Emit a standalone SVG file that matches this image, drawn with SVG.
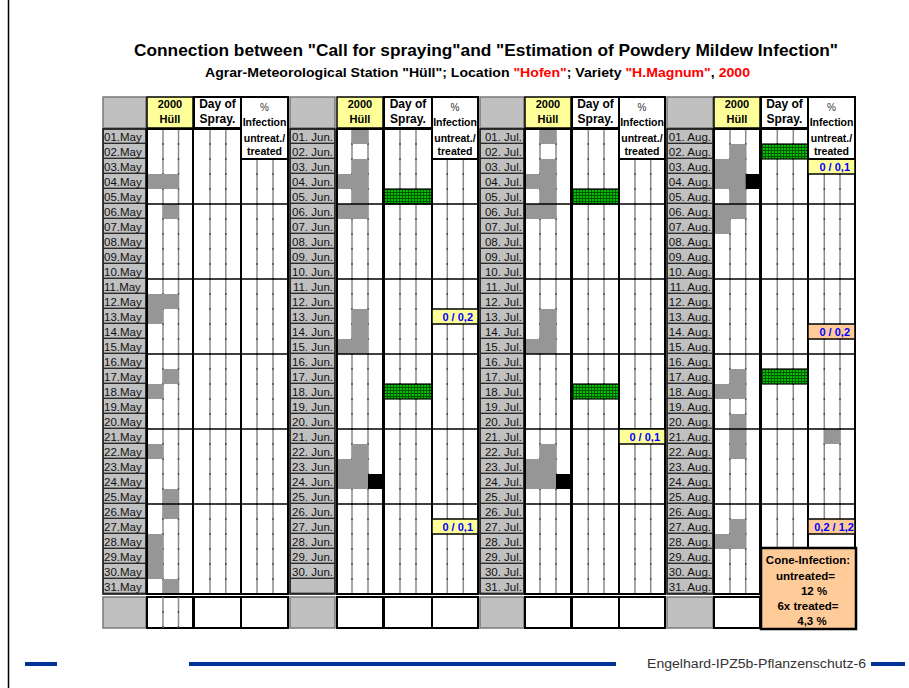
<svg xmlns="http://www.w3.org/2000/svg" width="909" height="688" viewBox="0 0 909 688">
<style>
text{font-family:"Liberation Sans",Arial,sans-serif}
.lb{font-size:11.5px;fill:#111}
.e{text-anchor:end}
.m{text-anchor:middle}
.hd{font-size:11px;font-weight:bold;fill:#000}
.hs{font-size:12px;font-weight:bold;fill:#000}
.hi{font-size:10.5px;font-weight:bold;fill:#000}
.pct{font-size:10px;fill:#333}
.val{font-size:11px;font-weight:bold;fill:#0000ff;text-anchor:end}
.gcol{fill:#c0c0c0;stroke:#000;stroke-width:1.5}
.ghd{fill:#c0c0c0;stroke:#7a7a7a;stroke-width:1.5}
.bx{fill:none;stroke:#000;stroke-width:2}
.wb{fill:#fff;stroke:#000;stroke-width:2}
.yl{fill:#ffff99;stroke:#000;stroke-width:1.5}
.pc{fill:#ffcc99;stroke:#000;stroke-width:1.5}
.gr{fill:#969696}
.bk{fill:#000}
.gn{fill:url(#grn);stroke:#000;stroke-width:1.2}
.sub{fill:none;stroke:#8a8a8a;stroke-width:1.5}
.subd{fill:none;stroke:#444;stroke-width:1.3;stroke-dasharray:2 13;stroke-dashoffset:1}
.hl{fill:none;stroke:#000;stroke-width:1.5}
.cone{font-size:11.5px;font-weight:bold;fill:#000;text-anchor:middle}
</style>
<defs>
<pattern id="grn" width="3" height="3" patternUnits="userSpaceOnUse"><rect width="3" height="3" fill="#00c000"/><path d="M0 .5H3M.5 0V3" stroke="#005500" stroke-width="1"/></pattern>
<pattern id="rows" x="0" y="129" width="50" height="15" patternUnits="userSpaceOnUse"><rect x="0" y="13.6" width="50" height="1.8" fill="#2b2b2b"/></pattern>
</defs>
<rect width="909" height="688" fill="#fff"/>
<path d="M8.5 0V688" stroke="#000" stroke-width="1.5"/>

<g id="title">
<text x="486" y="56" text-anchor="middle" font-size="17" font-weight="bold" textLength="704" lengthAdjust="spacingAndGlyphs">Connection between "Call for spraying"and "Estimation of Powdery Mildew Infection"</text>
<text x="477.5" y="77" text-anchor="middle" font-size="13" font-weight="bold" textLength="545" lengthAdjust="spacingAndGlyphs">Agrar-Meteorological Station "Hüll"; Location <tspan fill="#ff0000">"Hofen"</tspan>; Variety <tspan fill="#ff0000">"H.Magnum"</tspan>, <tspan fill="#ff0000">2000</tspan></text>
</g>

<!-- ===== MAY ===== -->
<g id="block-may">
<rect class="ghd" x="103" y="97" width="43" height="31"/>
<rect class="yl" x="147" y="97" width="46" height="31"/>
<text class="hd m" x="170" y="108">2000</text>
<text class="hd m" x="170" y="123">Hüll</text>
<rect class="wb" x="194" y="97" width="47" height="31"/>
<text class="hs m" x="217.5" y="108">Day of</text>
<text class="hs m" x="217.5" y="123">Spray.</text>
<rect x="147" y="129" width="141" height="465" fill="#fff"/>
<path class="sub" d="M163 129V594M178.5 129V594M210 129V594M225.8 129V594M257 159V594M273 159V594"/>
<path class="subd" d="M163 129V594M178.5 129V594M210 129V594M225.8 129V594M257 159V594M273 159V594"/>
<rect class="gr" x="147" y="174" width="16" height="15"/>
<rect class="gr" x="147" y="294" width="16" height="30"/>
<rect class="gr" x="147" y="384" width="16" height="15"/>
<rect class="gr" x="147" y="444" width="16" height="15"/>
<rect class="gr" x="147" y="534" width="16" height="45"/>
<rect class="gr" x="163" y="174" width="15.5" height="15"/>
<rect class="gr" x="163" y="204" width="15.5" height="15"/>
<rect class="gr" x="163" y="294" width="15.5" height="15"/>
<rect class="gr" x="163" y="369" width="15.5" height="15"/>
<rect class="gr" x="163" y="489" width="15.5" height="30"/>
<rect class="gr" x="163" y="579" width="15.5" height="15"/>
<path class="hl" d="M147 204H288M147 279H288M147 354H288M147 429H288M147 504H288"/>
<rect class="bx" x="147" y="129" width="46" height="465"/>
<rect class="bx" x="193" y="129" width="48" height="465"/>
<rect class="bx" x="241" y="159" width="47" height="435"/>
<rect class="wb" x="241" y="97" width="47" height="62"/>
<text class="pct m" x="264.5" y="111">%</text>
<text class="hi m" x="264.5" y="126">Infection</text>
<text class="hi m" x="264.5" y="141.5">untreat./</text>
<text class="hi m" x="264.5" y="155">treated</text>
<rect class="gcol" x="103" y="129" width="43" height="465"/>
<rect x="103" y="129" width="43" height="465" fill="url(#rows)"/>
<g class="lb">
<text x="104" y="140.5">01.May</text><text x="104" y="155.5">02.May</text><text x="104" y="170.5">03.May</text><text x="104" y="185.5">04.May</text><text x="104" y="200.5">05.May</text>
<text x="104" y="215.5">06.May</text><text x="104" y="230.5">07.May</text><text x="104" y="245.5">08.May</text><text x="104" y="260.5">09.May</text><text x="104" y="275.5">10.May</text>
<text x="104" y="290.5">11.May</text><text x="104" y="305.5">12.May</text><text x="104" y="320.5">13.May</text><text x="104" y="335.5">14.May</text><text x="104" y="350.5">15.May</text>
<text x="104" y="365.5">16.May</text><text x="104" y="380.5">17.May</text><text x="104" y="395.5">18.May</text><text x="104" y="410.5">19.May</text><text x="104" y="425.5">20.May</text>
<text x="104" y="440.5">21.May</text><text x="104" y="455.5">22.May</text><text x="104" y="470.5">23.May</text><text x="104" y="485.5">24.May</text><text x="104" y="500.5">25.May</text>
<text x="104" y="515.5">26.May</text><text x="104" y="530.5">27.May</text><text x="104" y="545.5">28.May</text><text x="104" y="560.5">29.May</text><text x="104" y="575.5">30.May</text>
<text x="104" y="590.5">31.May</text>
</g>
<rect class="ghd" x="103" y="597" width="43" height="31"/>
<rect class="wb" x="147" y="597" width="46" height="31"/>
<path class="sub" d="M163 597V628M178.5 597V628"/>
<path class="subd" d="M163 597V628M178.5 597V628"/>
<rect class="wb" x="194" y="597" width="47" height="31"/>
<rect class="wb" x="241" y="597" width="47" height="31"/>
</g>

<!-- ===== JUNE ===== -->
<g id="block-jun">
<rect class="ghd" x="290" y="97" width="45" height="31"/>
<rect class="yl" x="337" y="97" width="46" height="31"/>
<text class="hd m" x="360" y="108">2000</text>
<text class="hd m" x="360" y="123">Hüll</text>
<rect class="wb" x="384" y="97" width="48" height="31"/>
<text class="hs m" x="408" y="108">Day of</text>
<text class="hs m" x="408" y="123">Spray.</text>
<rect x="337" y="129" width="141" height="465" fill="#fff"/>
<path class="sub" d="M352 129V594M368 129V594M400 129V594M416 129V594M447.3 159V594M463.3 159V594"/>
<path class="subd" d="M352 129V594M368 129V594M400 129V594M416 129V594M447.3 159V594M463.3 159V594"/>
<rect class="gr" x="337" y="174" width="15" height="15"/>
<rect class="gr" x="337" y="204" width="15" height="15"/>
<rect class="gr" x="337" y="339" width="15" height="15"/>
<rect class="gr" x="337" y="459" width="15" height="30"/>
<rect class="gr" x="352" y="129" width="16" height="15"/>
<rect class="gr" x="352" y="159" width="16" height="60"/>
<rect class="gr" x="352" y="309" width="16" height="45"/>
<rect class="gr" x="352" y="444" width="16" height="45"/>
<rect class="bk" x="368" y="474" width="16" height="15"/>
<rect class="gn" x="384" y="189" width="48" height="15"/>
<rect class="gn" x="384" y="384" width="48" height="15"/>
<path class="hl" d="M337 204H478M337 279H478M337 354H478M337 429H478M337 504H478"/>
<rect class="bx" x="337" y="129" width="46" height="465"/>
<rect class="bx" x="384" y="129" width="48" height="465"/>
<rect class="bx" x="432" y="159" width="46" height="435"/>
<rect class="yl" x="432" y="309" width="46" height="15"/>
<text class="val" x="473" y="320.5">0 / 0,2</text>
<rect class="yl" x="432" y="519" width="46" height="15"/>
<text class="val" x="473" y="530.5">0 / 0,1</text>
<rect class="wb" x="432" y="97" width="46" height="62"/>
<text class="pct m" x="455" y="111">%</text>
<text class="hi m" x="455" y="126">Infection</text>
<text class="hi m" x="455" y="141.5">untreat./</text>
<text class="hi m" x="455" y="155">treated</text>
<rect class="gcol" x="290" y="129" width="45" height="465"/>
<rect x="290" y="129" width="45" height="465" fill="url(#rows)"/>
<g class="lb e">
<text x="333" y="140.5">01. Jun.</text><text x="333" y="155.5">02. Jun.</text><text x="333" y="170.5">03. Jun.</text><text x="333" y="185.5">04. Jun.</text><text x="333" y="200.5">05. Jun.</text>
<text x="333" y="215.5">06. Jun.</text><text x="333" y="230.5">07. Jun.</text><text x="333" y="245.5">08. Jun.</text><text x="333" y="260.5">09. Jun.</text><text x="333" y="275.5">10. Jun.</text>
<text x="333" y="290.5">11. Jun.</text><text x="333" y="305.5">12. Jun.</text><text x="333" y="320.5">13. Jun.</text><text x="333" y="335.5">14. Jun.</text><text x="333" y="350.5">15. Jun.</text>
<text x="333" y="365.5">16. Jun.</text><text x="333" y="380.5">17. Jun.</text><text x="333" y="395.5">18. Jun.</text><text x="333" y="410.5">19. Jun.</text><text x="333" y="425.5">20. Jun.</text>
<text x="333" y="440.5">21. Jun.</text><text x="333" y="455.5">22. Jun.</text><text x="333" y="470.5">23. Jun.</text><text x="333" y="485.5">24. Jun.</text><text x="333" y="500.5">25. Jun.</text>
<text x="333" y="515.5">26. Jun.</text><text x="333" y="530.5">27. Jun.</text><text x="333" y="545.5">28. Jun.</text><text x="333" y="560.5">29. Jun.</text><text x="333" y="575.5">30. Jun.</text>
</g>
<rect class="ghd" x="290" y="597" width="45" height="31"/>
<rect class="wb" x="337" y="597" width="46" height="31"/>
<rect class="wb" x="384" y="597" width="48" height="31"/>
<rect class="wb" x="432" y="597" width="46" height="31"/>
</g>

<!-- ===== JULY ===== -->
<g id="block-jul">
<rect class="ghd" x="480" y="97" width="44" height="31"/>
<rect class="yl" x="525" y="97" width="46" height="31"/>
<text class="hd m" x="548" y="108">2000</text>
<text class="hd m" x="548" y="123">Hüll</text>
<rect class="wb" x="572" y="97" width="47" height="31"/>
<text class="hs m" x="595.5" y="108">Day of</text>
<text class="hs m" x="595.5" y="123">Spray.</text>
<rect x="525" y="129" width="140" height="465" fill="#fff"/>
<path class="sub" d="M540 129V594M556 129V594M588.3 129V594M604 129V594M635 159V594M650.7 159V594"/>
<path class="subd" d="M540 129V594M556 129V594M588.3 129V594M604 129V594M635 159V594M650.7 159V594"/>
<rect class="gr" x="525" y="174" width="15" height="15"/>
<rect class="gr" x="525" y="204" width="15" height="15"/>
<rect class="gr" x="525" y="339" width="15" height="15"/>
<rect class="gr" x="525" y="459" width="15" height="30"/>
<rect class="gr" x="540" y="129" width="16" height="15"/>
<rect class="gr" x="540" y="159" width="16" height="60"/>
<rect class="gr" x="540" y="309" width="16" height="45"/>
<rect class="gr" x="540" y="444" width="16" height="45"/>
<rect class="bk" x="556" y="474" width="16" height="15"/>
<rect class="gn" x="572" y="189" width="47" height="15"/>
<rect class="gn" x="572" y="384" width="47" height="15"/>
<path class="hl" d="M525 204H665M525 279H665M525 354H665M525 429H665M525 504H665"/>
<rect class="bx" x="525" y="129" width="46" height="465"/>
<rect class="bx" x="572" y="129" width="47" height="465"/>
<rect class="bx" x="619" y="159" width="46" height="435"/>
<rect class="yl" x="619" y="429" width="46" height="15"/>
<text class="val" x="660" y="440.5">0 / 0,1</text>
<rect class="wb" x="619" y="97" width="46" height="62"/>
<text class="pct m" x="642" y="111">%</text>
<text class="hi m" x="642" y="126">Infection</text>
<text class="hi m" x="642" y="141.5">untreat./</text>
<text class="hi m" x="642" y="155">treated</text>
<rect class="gcol" x="480" y="129" width="44" height="465"/>
<rect x="480" y="129" width="44" height="465" fill="url(#rows)"/>
<g class="lb e">
<text x="522" y="140.5">01. Jul.</text><text x="522" y="155.5">02. Jul.</text><text x="522" y="170.5">03. Jul.</text><text x="522" y="185.5">04. Jul.</text><text x="522" y="200.5">05. Jul.</text>
<text x="522" y="215.5">06. Jul.</text><text x="522" y="230.5">07. Jul.</text><text x="522" y="245.5">08. Jul.</text><text x="522" y="260.5">09. Jul.</text><text x="522" y="275.5">10. Jul.</text>
<text x="522" y="290.5">11. Jul.</text><text x="522" y="305.5">12. Jul.</text><text x="522" y="320.5">13. Jul.</text><text x="522" y="335.5">14. Jul.</text><text x="522" y="350.5">15. Jul.</text>
<text x="522" y="365.5">16. Jul.</text><text x="522" y="380.5">17. Jul.</text><text x="522" y="395.5">18. Jul.</text><text x="522" y="410.5">19. Jul.</text><text x="522" y="425.5">20. Jul.</text>
<text x="522" y="440.5">21. Jul.</text><text x="522" y="455.5">22. Jul.</text><text x="522" y="470.5">23. Jul.</text><text x="522" y="485.5">24. Jul.</text><text x="522" y="500.5">25. Jul.</text>
<text x="522" y="515.5">26. Jul.</text><text x="522" y="530.5">27. Jul.</text><text x="522" y="545.5">28. Jul.</text><text x="522" y="560.5">29. Jul.</text><text x="522" y="575.5">30. Jul.</text>
<text x="522" y="590.5">31. Jul.</text>
</g>
<rect class="ghd" x="480" y="597" width="44" height="31"/>
<rect class="wb" x="525" y="597" width="46" height="31"/>
<rect class="wb" x="572" y="597" width="47" height="31"/>
<rect class="wb" x="619" y="597" width="46" height="31"/>
</g>

<!-- ===== AUGUST ===== -->
<g id="block-aug">
<rect class="ghd" x="667" y="97" width="46" height="31"/>
<rect class="yl" x="714" y="97" width="46" height="31"/>
<text class="hd m" x="737" y="108">2000</text>
<text class="hd m" x="737" y="123">Hüll</text>
<rect class="wb" x="761" y="97" width="47" height="31"/>
<text class="hs m" x="784.5" y="108">Day of</text>
<text class="hs m" x="784.5" y="123">Spray.</text>
<rect x="714" y="129" width="141" height="465" fill="#fff"/>
<path class="sub" d="M730 129V594M745.7 129V594M777.3 129V548M793.3 129V548M824.3 174V519M840 174V519"/>
<path class="subd" d="M730 129V594M745.7 129V594M777.3 129V548M793.3 129V548M824.3 174V519M840 174V519"/>
<rect class="gr" x="714" y="159" width="16" height="30"/>
<rect class="gr" x="714" y="204" width="16" height="30"/>
<rect class="gr" x="714" y="384" width="16" height="15"/>
<rect class="gr" x="714" y="534" width="16" height="15"/>
<rect class="gr" x="730" y="144" width="15.7" height="75"/>
<rect class="gr" x="730" y="369" width="15.7" height="30"/>
<rect class="gr" x="730" y="414" width="15.7" height="45"/>
<rect class="gr" x="730" y="519" width="15.7" height="30"/>
<rect class="bk" x="745.7" y="174" width="15.3" height="15"/>
<rect class="gr" x="824.3" y="429" width="15.7" height="15"/>
<rect class="gn" x="761" y="144" width="47" height="15"/>
<rect class="gn" x="761" y="369" width="47" height="15"/>
<path class="hl" d="M714 204H855M714 279H855M714 354H855M714 429H855M714 504H855"/>
<rect class="bx" x="714" y="129" width="46" height="465"/>
<rect class="bx" x="761" y="129" width="47" height="419"/>
<rect class="bx" x="808" y="159" width="47" height="389"/>
<rect class="yl" x="808" y="159" width="47" height="15"/>
<text class="val" x="850" y="170.5">0 / 0,1</text>
<rect class="pc" x="808" y="324" width="47" height="15"/>
<text class="val" x="850" y="335.5">0 / 0,2</text>
<rect class="pc" x="808" y="519" width="47" height="15"/>
<text class="val" x="854" y="530.5">0,2 / 1,2</text>
<rect class="wb" x="808" y="97" width="47" height="62"/>
<text class="pct m" x="831.5" y="111">%</text>
<text class="hi m" x="831.5" y="126">Infection</text>
<text class="hi m" x="831.5" y="141.5">untreat./</text>
<text class="hi m" x="831.5" y="155">treated</text>
<rect class="gcol" x="667" y="129" width="46" height="465"/>
<rect x="667" y="129" width="46" height="465" fill="url(#rows)"/>
<g class="lb e">
<text x="711" y="140.5">01. Aug.</text><text x="711" y="155.5">02. Aug.</text><text x="711" y="170.5">03. Aug.</text><text x="711" y="185.5">04. Aug.</text><text x="711" y="200.5">05. Aug.</text>
<text x="711" y="215.5">06. Aug.</text><text x="711" y="230.5">07. Aug.</text><text x="711" y="245.5">08. Aug.</text><text x="711" y="260.5">09. Aug.</text><text x="711" y="275.5">10. Aug.</text>
<text x="711" y="290.5">11. Aug.</text><text x="711" y="305.5">12. Aug.</text><text x="711" y="320.5">13. Aug.</text><text x="711" y="335.5">14. Aug.</text><text x="711" y="350.5">15. Aug.</text>
<text x="711" y="365.5">16. Aug.</text><text x="711" y="380.5">17. Aug.</text><text x="711" y="395.5">18. Aug.</text><text x="711" y="410.5">19. Aug.</text><text x="711" y="425.5">20. Aug.</text>
<text x="711" y="440.5">21. Aug.</text><text x="711" y="455.5">22. Aug.</text><text x="711" y="470.5">23. Aug.</text><text x="711" y="485.5">24. Aug.</text><text x="711" y="500.5">25. Aug.</text>
<text x="711" y="515.5">26. Aug.</text><text x="711" y="530.5">27. Aug.</text><text x="711" y="545.5">28. Aug.</text><text x="711" y="560.5">29. Aug.</text><text x="711" y="575.5">30. Aug.</text>
<text x="711" y="590.5">31. Aug.</text>
</g>
<rect class="ghd" x="667" y="597" width="46" height="31"/>
<rect class="wb" x="714" y="597" width="46" height="31"/>
</g>

<g id="cone-infection">
<rect x="761" y="548" width="95" height="81" fill="#ffcc99" stroke="#000" stroke-width="2.5"/>
<text class="cone" x="808" y="564">Cone-Infection:</text>
<text class="cone" x="805.5" y="579.5">untreated=</text>
<text class="cone" x="814" y="595">12 %</text>
<text class="cone" x="808" y="610">6x treated=</text>
<text class="cone" x="812" y="625">4,3 %</text>
</g>

<g id="footer">
<path d="M25 664H57M189 664H616M871 664H905" stroke="#003399" stroke-width="4"/>
<text x="647" y="668" font-size="12" fill="#333" textLength="219" lengthAdjust="spacingAndGlyphs">Engelhard-IPZ5b-Pflanzenschutz-6</text>
</g>
</svg>
